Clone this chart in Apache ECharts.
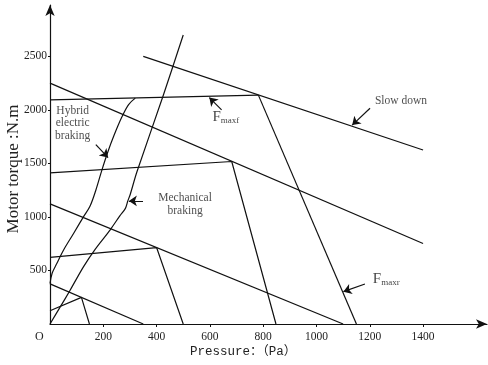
<!DOCTYPE html>
<html>
<head>
<meta charset="utf-8">
<script src="https://cdn.jsdelivr.net/npm/echarts@6/dist/echarts.min.js"></script>
<style>
  html, body { margin: 0; padding: 0; background: #fff; }
  #chart { width: 488px; height: 365px; }
</style>
</head>
<body>
<div id="chart"></div>
<script>
// Axis ticks
const xTicks = [200, 400, 600, 800, 1000, 1200, 1400];
const yTicks = [500, 1000, 1500, 2000, 2500];

// Braking-force boundaries (pressure Pa, motor torque N.m)
const slowDown = [[350, 2500], [1400, 1625]];
const fMaxf = [[0, 2093], [782, 2138]];
const fMaxr = [[782, 2138], [1150, 0]];

// Iso-deceleration lines and their front/rear limit polylines
const iso1 = [[0, 2250], [1400, 752]];
const iso1Limit = [[0, 1412], [682, 1518], [848, 0]];
const iso2 = [[0, 1122], [1100, 0]];
const iso2Limit = [[0, 623], [400, 714], [500, 0]];
const iso3 = [[0, 375], [350, 0]];
const iso3Limit = [[0, 124], [118, 249], [148, 0]];

// Braking mode curves
const hybridCurve = [[0, 378], [8, 474], [26, 567], [51, 692], [89, 848], [126, 1003],
  [150, 1100], [172, 1250], [195, 1440], [216, 1600], [240, 1760], [270, 1935],
  [295, 2050], [320, 2110]];
const mechanicalCurve = [[0, 0], [39, 162], [76, 318], [126, 536], [170, 700],
  [226, 880], [262, 1010], [283, 1080], [292, 1150], [301, 1210], [326, 1420],
  [424, 2128], [500, 2700]];

// Callout arrows: [from, to]
const arrowHybrid = [[172, 1675], [218, 1555]];
const arrowMechanical = [[349, 1150], [296, 1150]];
const arrowFmaxf = [[644, 2000], [598, 2115]];
const arrowFmaxr = [[1182, 374], [1101, 302]];
const arrowSlowDown = [[1201, 2016], [1134, 1858]];

// Callout texts and anchor points
const labelHybrid = ['Hybrid\nelectric\nbraking', [85, 1874]];
const labelMechanical = ['Mechanical\nbraking', [507, 1117]];
const labelFmaxf = ['{f|F}{s|maxf}', [660, 1935]];
const labelFmaxr = ['{f|F}{s|maxr}', [1262, 421]];
const labelSlowDown = ['Slow down', [1317, 2087]];

const serif = "'Liberation Serif', 'DejaVu Serif', serif";
const ink = '#111';

function curve(data, smooth) {
  return {
    type: 'line', data: data, showSymbol: false, symbol: 'none', smooth: smooth || false,
    lineStyle: { color: ink, width: 1.2 }, silent: true, z: 3
  };
}

function arrow(pair) {
  return { coords: pair };
}

function textPoint(item) {
  return { name: item[0], value: item[1] };
}

function plain(v) {
  return String(v);
}

const chart = echarts.init(document.getElementById('chart'), null, { renderer: 'canvas' });

chart.setOption({
  backgroundColor: '#fff',
  animation: false,
  grid: { left: 50, right: 1, top: 5, bottom: 41, containLabel: false },
  xAxis: {
    type: 'value', min: 0, max: 1640,
    axisLine: { show: true, lineStyle: { color: ink, width: 1.2 }, symbol: ['none', 'arrow'], symbolSize: [7, 11] },
    axisTick: { show: true, length: 3, customValues: xTicks, lineStyle: { color: ink } },
    axisLabel: { customValues: xTicks, formatter: plain, margin: 7, fontFamily: serif, fontSize: 11.5, color: '#222' },
    splitLine: { show: false }
  },
  yAxis: {
    type: 'value', min: 0, max: 2980,
    axisLine: { show: true, lineStyle: { color: ink, width: 1.2 }, symbol: ['none', 'arrow'], symbolSize: [7, 11] },
    axisTick: { show: true, length: 2, customValues: yTicks, lineStyle: { color: ink } },
    axisLabel: { customValues: yTicks, formatter: plain, margin: 3, fontFamily: serif, fontSize: 11.5, color: '#222' },
    splitLine: { show: false }
  },
  graphic: [
    { type: 'text', left: 35, top: 331, style: { text: 'O', font: "12px 'Liberation Serif'", fill: '#222' } },
    { type: 'text', left: 190, top: 345,
      style: { text: 'Pressure：（Pa）', font: "12.5px 'Liberation Mono', 'Noto Sans CJK SC'", fill: '#222' } },
    { type: 'text', x: 5, y: 169, rotation: Math.PI / 2,
      style: { text: 'Motor torque :N.m', font: "17px 'Liberation Serif'", fill: '#222',
        align: 'center', verticalAlign: 'top' } }
  ],
  series: [
    curve(slowDown), curve(fMaxf), curve(fMaxr),
    curve(iso1), curve(iso1Limit), curve(iso2), curve(iso2Limit), curve(iso3), curve(iso3Limit),
    curve(hybridCurve, 0.35), curve(mechanicalCurve, 0.3),
    {
      type: 'lines', coordinateSystem: 'cartesian2d', silent: true, z: 4,
      symbol: ['none', 'arrow'], symbolSize: [0, 8],
      lineStyle: { color: ink, width: 1.2, opacity: 1 },
      data: [arrowHybrid, arrowMechanical, arrowFmaxf, arrowFmaxr, arrowSlowDown].map(arrow)
    },
    {
      type: 'scatter', symbolSize: 0, silent: true, z: 5,
      data: [labelHybrid, labelMechanical, labelSlowDown].map(textPoint),
      label: {
        show: true, position: 'inside', formatter: '{b}', color: '#222',
        fontFamily: serif, fontSize: 11.5, lineHeight: 12.7, align: 'center', verticalAlign: 'middle'
      }
    },
    {
      type: 'scatter', symbolSize: 0, silent: true, z: 5,
      data: [labelFmaxf, labelFmaxr].map(textPoint),
      label: {
        show: true, position: 'inside', formatter: '{b}', align: 'center', verticalAlign: 'middle',
        rich: {
          f: { fontFamily: serif, fontSize: 15, color: '#111', verticalAlign: 'bottom', lineHeight: 16 },
          s: { fontFamily: serif, fontSize: 9, color: '#111', verticalAlign: 'bottom', lineHeight: 13 }
        }
      }
    }
  ]
});
</script>
</body>
</html>
